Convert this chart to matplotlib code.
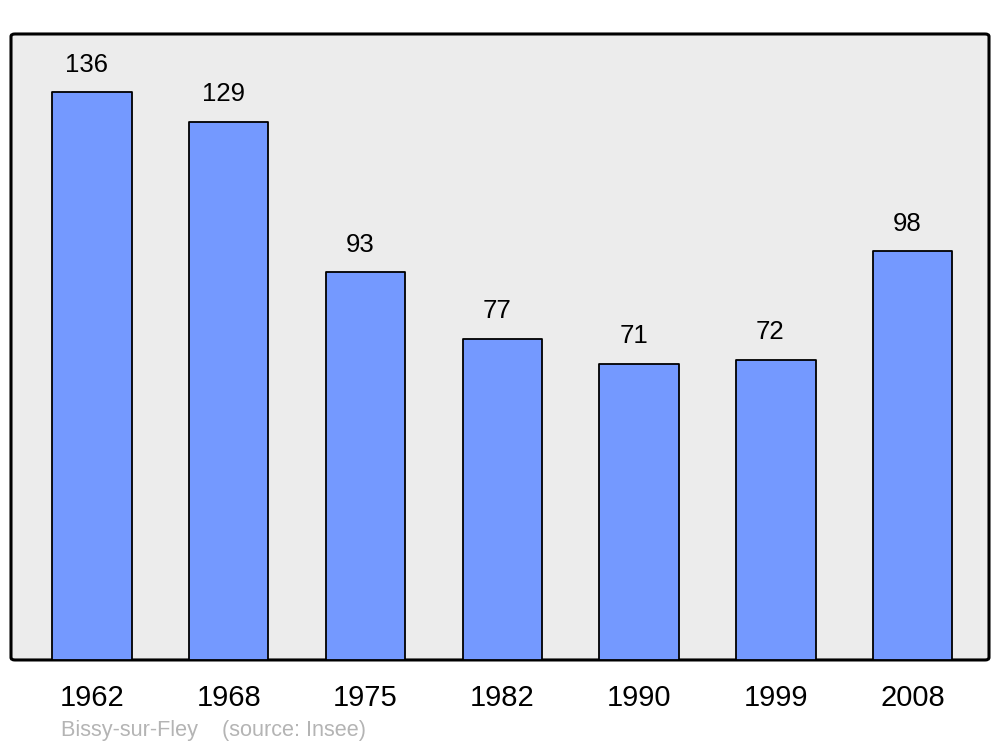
import matplotlib
matplotlib.use("Agg")
import matplotlib.pyplot as plt
from matplotlib.patches import FancyBboxPatch

years = ["1962", "1968", "1975", "1982", "1990", "1999", "2008"]
population = [136, 129, 93, 77, 71, 72, 98]

plt.rcParams['font.family'] = ['Liberation Sans', 'DejaVu Sans']

fig = plt.figure(figsize=(10, 7.47), dpi=100)
ax = fig.add_axes([0.011, 0.1165, 0.978, 0.838])
ax.set_facecolor('none')
for s in ax.spines.values():
    s.set_visible(False)

# fond gris avec coins arrondis
bg = FancyBboxPatch((0, 0), 1, 1, boxstyle="round,pad=0,rounding_size=0.004",
                    transform=ax.transAxes, facecolor='#ececec', edgecolor='black',
                    linewidth=2.2, zorder=0, clip_on=False)
ax.add_patch(bg)

x = list(range(len(years)))
bars = ax.bar(x, population, width=0.58, color='#7499ff', edgecolor='black',
              linewidth=1.3, zorder=2)
for b in bars:
    b.set_joinstyle('round')

for xi, v in zip(x, population):
    ax.annotate(str(v), (xi, v), xytext=(-4, 11), textcoords='offset points',
                ha='center', va='bottom', fontsize=18.5)

ax.set_xlim(-0.592, 6.558)
ax.set_ylim(0, 150)
ax.set_yticks([])
ax.set_xticks(x)
ax.set_xticklabels(years, fontsize=21)
ax.tick_params(axis='x', length=0, pad=17)

fig.text(0.061, 0.008, "Bissy-sur-Fley    (source: Insee)", color='#b4b4b4',
         fontsize=15.6, ha='left', va='bottom')

fig.savefig("out.png", dpi=100)
